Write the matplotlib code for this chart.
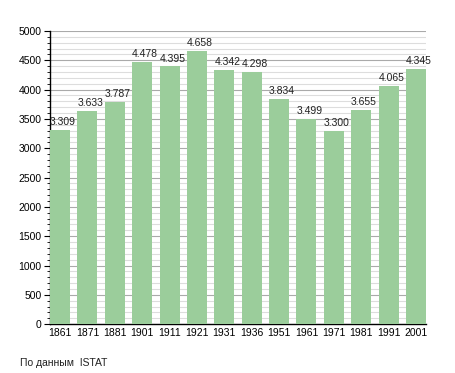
import matplotlib
matplotlib.use("Agg")
import matplotlib.pyplot as plt
from matplotlib.ticker import MultipleLocator

# population by census year (source: ISTAT)
years = ['1861', '1871', '1881', '1901', '1911', '1921', '1931',
         '1936', '1951', '1961', '1971', '1981', '1991', '2001']
population = [3309, 3633, 3787, 4478, 4395, 4658, 4342,
              4298, 3834, 3499, 3300, 3655, 4065, 4345]
labels = ['3.309', '3.633', '3.787', '4.478', '4.395', '4.658', '4.342',
          '4.298', '3.834', '3.499', '3.300', '3.655', '4.065', '4.345']

plt.rcParams['font.family'] = ['Liberation Sans', 'DejaVu Sans']

fig = plt.figure(figsize=(4.55, 3.73), dpi=100)
ax = fig.add_axes([0.110, 0.131, 0.826, 0.786])

w = 0.73
xs = list(range(len(years)))
bars = ax.bar(xs, population, width=w, color='#9bcd9b', zorder=3)

for b, lab in zip(bars, labels):
    ax.text(b.get_x(), b.get_height() + 50, lab, ha='left', va='bottom',
            fontsize=7.5, color='#222222', zorder=4)

ax.set_xlim(-w / 2, len(years) - 1 + w / 2)
ax.set_ylim(0, 5000)
ax.set_xticks(xs)
ax.set_xticklabels(years)
ax.yaxis.set_major_locator(MultipleLocator(500))
ax.yaxis.set_minor_locator(MultipleLocator(100))

ax.grid(axis='y', which='major', color='#aaaaaa', linewidth=0.8, zorder=0)
ax.grid(axis='y', which='minor', color='#dddddd', linewidth=0.8, zorder=0)

for s in ['top', 'right']:
    ax.spines[s].set_visible(False)
ax.spines['left'].set_linewidth(1.0)
ax.spines['bottom'].set_linewidth(1.0)

ax.tick_params(axis='y', which='major', length=4, labelsize=7.5, pad=2)
ax.tick_params(axis='y', which='minor', length=2)
ax.tick_params(axis='x', length=0, labelsize=7.5, pad=3)

fig.text(0.045, 0.02, 'По данным  ISTAT', fontsize=7.5, color='#222222')

fig.savefig('out.png', dpi=100)
